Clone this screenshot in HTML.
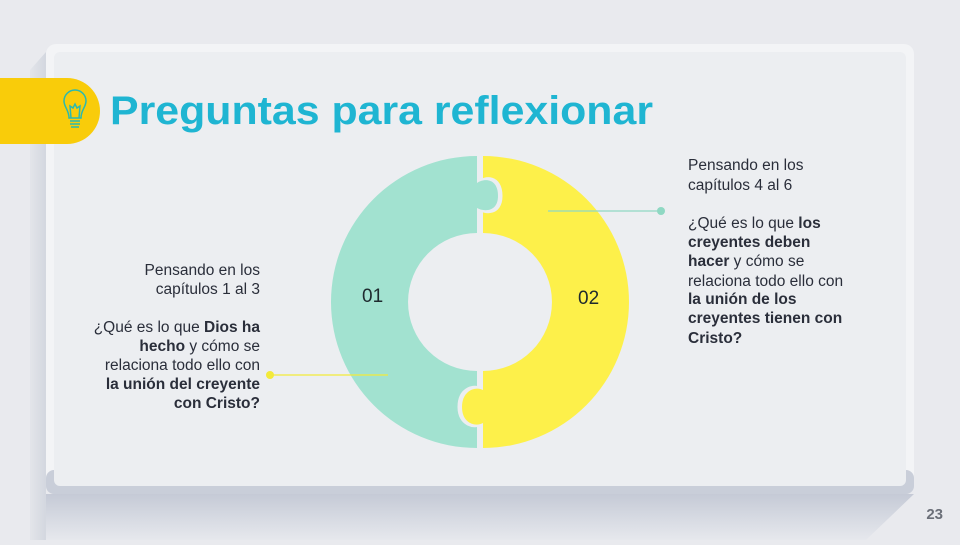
<!DOCTYPE html>
<html><head><meta charset="utf-8"><style>
body{margin:0;width:960px;height:540px;overflow:hidden;background:#e9eaee;font-family:"Liberation Sans",sans-serif}
</style></head><body>
<svg width="960" height="540" viewBox="0 0 960 540" xmlns="http://www.w3.org/2000/svg">
<defs>
<linearGradient id="sh" x1="0" y1="0" x2="0" y2="1"><stop offset="0" stop-color="#c5cad6"/><stop offset="1" stop-color="#e6e8ed"/></linearGradient>
<linearGradient id="lf" x1="0" y1="0" x2="1" y2="0"><stop offset="0" stop-color="#e3e5ea"/><stop offset="1" stop-color="#d3d7df"/></linearGradient>
</defs>
<rect width="960" height="540" fill="#e9eaee"/>
<polygon points="46,52 30,70 30,540 46,540" fill="url(#lf)"/>
<polygon points="46,494 914,494 866,540 46,540" fill="url(#sh)"/>
<rect x="46" y="44" width="868" height="450" rx="10" fill="#f3f4f6"/>
<rect x="46" y="470" width="868" height="24" rx="8" fill="#c9ced9"/>
<rect x="54" y="52" width="852" height="434" rx="6" fill="#eceef1"/>
<path d="M0,78 H67 A33,33 0 0 1 67,144 H0 Z" fill="#f9cc0a"/>
<g fill="none" stroke="#2ab9b0" stroke-width="1.5">
<path d="M69,118 C69,110 64,107 64,101 A11,11 0 0 1 86,101 C86,107 81,110 81,118 Z"/>
<path d="M71,118 L70,106 L73,108 L75,104 L77,108 L80,106 L79,118"/>
<line x1="70" y1="121" x2="80" y2="121"/><line x1="70" y1="124" x2="80" y2="124"/><line x1="71" y1="127" x2="79" y2="127"/>
</g>
<text x="110" y="124" font-size="40" font-weight="bold" fill="#1fb5d2" textLength="543" lengthAdjust="spacingAndGlyphs">Preguntas para reflexionar</text>
<!-- ring -->
<path d="M477,156 A146,146 0 0 0 477,448 L477,371 A69,69 0 0 1 477,233 Z" fill="#a2e2d0"/>
<path d="M483,156 A146,146 0 0 1 483,448 L483,371 A69,69 0 0 0 483,233 Z" fill="#fdf04a"/>
<!-- top tab (green into yellow) -->
<path d="M480,183 C484,178 500,176 500,196 C500,214 484,212 480,208 Z" fill="#eceef1" stroke="#eceef1" stroke-width="5"/>
<path d="M477,183 C484,178 498,178 498,196 C498,212 484,212 477,208 Z" fill="#a2e2d0"/>
<!-- bottom tab (yellow into green) -->
<path d="M480,390 C476,386 460,388 460,407 C460,425 476,427 480,423 Z" fill="#eceef1" stroke="#eceef1" stroke-width="5"/>
<path d="M483,390 C476,386 462,390 462,407 C462,424 476,427 483,423 Z" fill="#fdf04a"/>
<text x="362" y="302" font-size="19" fill="#1e2a2e">01</text>
<text x="578" y="304" font-size="19" fill="#1e2a2e">02</text>
<line x1="548" y1="211" x2="661" y2="211" stroke="#8fd8c3" stroke-width="1.2"/>
<circle cx="661" cy="211" r="4" fill="#8fd8c3"/>
<line x1="268" y1="375" x2="388" y2="375" stroke="#f3ea3a" stroke-width="1.2"/>
<circle cx="270" cy="375" r="4" fill="#f3ea3a"/>
<g font-size="15.5" fill="#2a2e3a">
<text x="688" y="170">Pensando en los</text>
<text x="688" y="190">capítulos 4 al 6</text>
<text x="688" y="228">¿Qué es lo que <tspan font-weight="bold">los</tspan></text>
<text x="688" y="247" font-weight="bold">creyentes deben</text>
<text x="688" y="266"><tspan font-weight="bold">hacer</tspan> y cómo se</text>
<text x="688" y="286">relaciona todo ello con</text>
<text x="688" y="304" font-weight="bold">la unión de los</text>
<text x="688" y="323" font-weight="bold">creyentes tienen con</text>
<text x="688" y="343" font-weight="bold">Cristo?</text>
</g>
<g font-size="15.5" fill="#2a2e3a" text-anchor="end">
<text x="260" y="275">Pensando en los</text>
<text x="260" y="294">capítulos 1 al 3</text>
<text x="260" y="332">¿Qué es lo que <tspan font-weight="bold">Dios ha</tspan></text>
<text x="260" y="351"><tspan font-weight="bold">hecho</tspan> y cómo se</text>
<text x="260" y="370">relaciona todo ello con</text>
<text x="260" y="389" font-weight="bold">la unión del creyente</text>
<text x="260" y="408" font-weight="bold">con Cristo?</text>
</g>
<text x="943" y="519" font-size="15" font-weight="bold" fill="#6b6f78" text-anchor="end">23</text>
</svg>
</body></html>
